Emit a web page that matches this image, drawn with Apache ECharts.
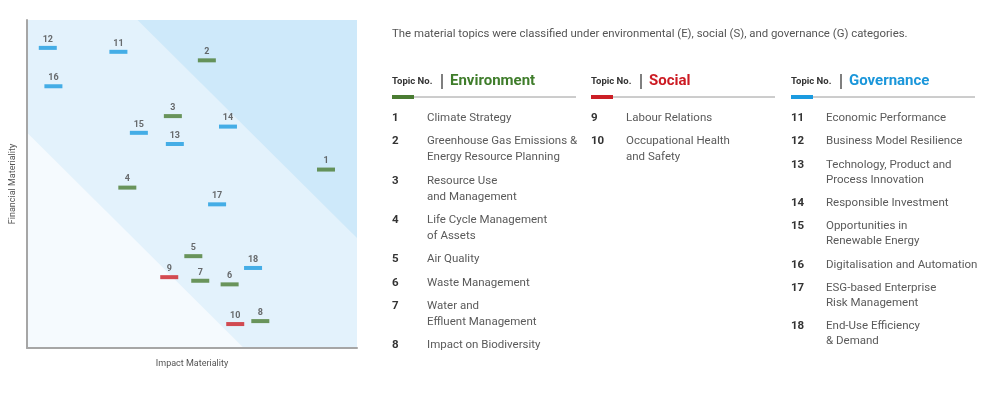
<!DOCTYPE html>
<html>
<head>
<meta charset="utf-8">
<script src="https://cdn.jsdelivr.net/npm/echarts@6/dist/echarts.min.js"></script>
<style>
  html, body { margin: 0; padding: 0; background: #fff; }
  #chart { width: 999px; height: 393px; }
</style>
</head>
<body>
<div id="chart"></div>
<script>
  // materiality matrix data (axes 0..10)
  var topicNo   = [1, 2, 3, 4, 5, 6, 7, 8, 9, 10, 11, 12, 13, 14, 15, 16, 17, 18]
  var impact    = [9.06, 5.45, 4.42, 3.04, 5.04, 6.14, 5.25, 7.07, 4.31, 6.31, 2.77, 0.63, 4.48, 6.09, 3.39, 0.80, 5.76, 6.85]
  var financial = [5.44, 8.77, 7.07, 4.89, 2.80, 1.94, 2.05, 0.82, 2.16, 0.73, 9.03, 9.15, 6.22, 6.75, 6.56, 7.98, 4.38, 2.44]
  var category  = ['E', 'E', 'E', 'E', 'E', 'E', 'E', 'E', 'S', 'S', 'G', 'G', 'G', 'G', 'G', 'G', 'G', 'G']

  // diagonal background bands: impact + financial thresholds
  var bandCuts = [6.57, 13.35]
  var axisMax = 10

  var categories = ['E', 'S', 'G']
  var categoryNames = ['Environment', 'Social', 'Governance']
  var categoryColors = ['#4a7c32', '#cc1f26', '#1b9be0']
  var headingColors = ['#3f7d2b', '#cc1a22', '#1a96da']

  var envTopics = [
    [1, 'Climate Strategy'],
    [2, 'Greenhouse Gas Emissions &\nEnergy Resource Planning'],
    [3, 'Resource Use\nand Management'],
    [4, 'Life Cycle Management\nof Assets'],
    [5, 'Air Quality'],
    [6, 'Waste Management'],
    [7, 'Water and\nEffluent Management'],
    [8, 'Impact on Biodiversity']
  ]
  var socialTopics = [
    [9, 'Labour Relations'],
    [10, 'Occupational Health\nand Safety']
  ]
  var govTopics = [
    [11, 'Economic Performance'],
    [12, 'Business Model Resilience'],
    [13, 'Technology, Product and\nProcess Innovation'],
    [14, 'Responsible Investment'],
    [15, 'Opportunities in\nRenewable Energy'],
    [16, 'Digitalisation and Automation'],
    [17, 'ESG-based Enterprise\nRisk Management'],
    [18, 'End-Use Efficiency\n& Demand']
  ]
  var introText = 'The material topics were classified under environmental (E), social (S), and governance (G) categories.'

  var chart = echarts.init(document.getElementById('chart'))
  var FONT = 'Roboto, "Noto Sans", sans-serif'

  // scatter series, one per category
  var scatterSeries = categories.map(function (cat, ci) {
    var data = []
    for (var i = 0; i < topicNo.length; i++) {
      if (category[i] === cat) data.push({ value: [impact[i], financial[i]], name: String(topicNo[i]) })
    }
    return {
      type: 'scatter',
      name: categoryNames[ci],
      data: data,
      symbol: 'rect',
      symbolSize: [18, 4],
      z: 5,
      itemStyle: { color: categoryColors[ci] },
      label: {
        show: true,
        position: 'top',
        distance: 2,
        formatter: '{b}',
        fontFamily: FONT,
        fontSize: 9,
        fontWeight: 'bold',
        color: '#474747'
      }
    }
  })

  var bandSeries = {
    type: 'custom',
    z: 1,
    silent: true,
    data: [[0], [1]],
    renderItem: function (params, api) {
      var pts, fill
      if (params.dataIndex === 0) {
        var c = bandCuts[0]
        pts = [api.coord([0, 0]), api.coord([c, 0]), api.coord([0, c])]
        fill = '#f5fafe'
      } else {
        var d = bandCuts[1] - axisMax
        pts = [api.coord([d, axisMax]), api.coord([axisMax, axisMax]), api.coord([axisMax, d])]
        fill = '#cee9fa'
      }
      return { type: 'polygon', shape: { points: pts }, style: { fill: fill } }
    }
  }

  // right side legend / topic list
  var graphics = []
  graphics.push({
    type: 'text', x: 392, y: 34,
    style: { text: introText, fontFamily: FONT, fontSize: 11.4, fill: '#555', verticalAlign: 'middle' }
  })

  var colX = [392, 591, 791]
  var colLists = [envTopics, socialTopics, govTopics]
  var colLineH = [16, 16, 15]
  colLists.forEach(function (list, ci) {
    var x0 = colX[ci]
    graphics.push({
      type: 'text', x: x0, y: 82,
      style: { text: 'Topic No.', fontFamily: FONT, fontSize: 9.5, fontWeight: 'bold', fill: '#333', verticalAlign: 'middle' }
    })
    graphics.push({
      type: 'line', shape: { x1: x0 + 50, y1: 74, x2: x0 + 50, y2: 89 },
      style: { stroke: '#555', lineWidth: 1.5 }
    })
    graphics.push({
      type: 'text', x: x0 + 58, y: 81,
      style: { text: categoryNames[ci], fontFamily: FONT, fontSize: 15, fontWeight: 'bold', fill: headingColors[ci], verticalAlign: 'middle' }
    })
    graphics.push({
      type: 'line', shape: { x1: x0, y1: 97, x2: x0 + 184, y2: 97 },
      style: { stroke: '#9a9a9a', lineWidth: 1 }
    })
    graphics.push({
      type: 'rect', shape: { x: x0, y: 95, width: 22, height: 4 },
      style: { fill: categoryColors[ci] }
    })

    var y = 118.3
    list.forEach(function (item) {
      graphics.push({
        type: 'text', x: x0, y: y,
        style: { text: String(item[0]), fontFamily: FONT, fontSize: 11.5, fontWeight: 'bold', fill: '#333', verticalAlign: 'middle' }
      })
      var lines = item[1].split('\n')
      lines.forEach(function (ln, li) {
        graphics.push({
          type: 'text', x: x0 + 35, y: y + li * colLineH[ci],
          style: { text: ln, fontFamily: FONT, fontSize: 11.5, fill: '#5a5a5a', verticalAlign: 'middle' }
        })
      })
      y += 23.3 + (lines.length - 1) * colLineH[ci]
    })
  })

  chart.setOption({
    animation: false,
    grid: {
      left: 27, right: 642, top: 20, bottom: 45,
      show: true, backgroundColor: '#e3f2fc', borderWidth: 0
    },
    xAxis: {
      type: 'value', min: 0, max: axisMax, z: 6,
      name: 'Impact Materiality', nameLocation: 'middle', nameGap: 11,
      nameTextStyle: { fontFamily: FONT, fontSize: 9, color: '#555' },
      axisLine: { show: true, lineStyle: { color: '#a6a6a6', width: 2 } },
      axisTick: { show: false }, axisLabel: { show: false }, splitLine: { show: false }
    },
    yAxis: {
      type: 'value', min: 0, max: axisMax, z: 6,
      name: 'Financial Materiality', nameLocation: 'middle', nameGap: 10,
      nameTextStyle: { fontFamily: FONT, fontSize: 9, color: '#555' },
      axisLine: { show: true, lineStyle: { color: '#a6a6a6', width: 2 } },
      axisTick: { show: false }, axisLabel: { show: false }, splitLine: { show: false }
    },
    graphic: graphics,
    series: [bandSeries].concat(scatterSeries)
  })
</script>
</body>
</html>
